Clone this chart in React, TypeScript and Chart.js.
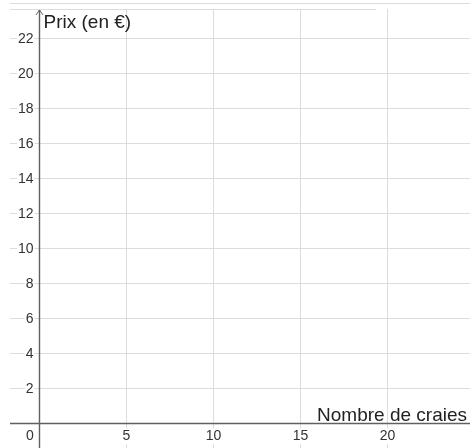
import React, { useEffect, useRef } from "react";
import Chart from "chart.js/auto";

const xGridValues = [0, 5, 10, 15, 20];
const yGridValues = [2, 4, 6, 8, 10, 12, 14, 16, 18, 20, 22, 24];
const xTickLabels = ["0", "5", "10", "15", "20"];
const yTickValues = [2, 4, 6, 8, 10, 12, 14, 16, 18, 20, 22];
const xTitle = "Nombre de craies";
const yTitle = "Prix (en €)";
const xRange = [-1.695, 24.74];
const yRange = [-1.4, 23.69];

const GRID = "#dcdcdc";
const AXIS = "#606060";
const TEXT = "#333333";
const FONT = "'Liberation Sans', Arial, sans-serif";

const overlay = {
  id: "geoOverlay",
  afterDraw(chart: any) {
    const { ctx, chartArea, scales } = chart;
    const xs = scales.x;
    const ys = scales.y;
    const x0 = xs.getPixelForValue(0);
    const y0 = ys.getPixelForValue(0);
    ctx.save();

    // top frame line
    ctx.strokeStyle = GRID;
    ctx.lineWidth = 1;
    ctx.beginPath();
    ctx.moveTo(chartArea.left, chartArea.top + 0.5);
    ctx.lineTo(xs.getPixelForValue(19.35), chartArea.top + 0.5);
    ctx.stroke();

    // axes
    ctx.strokeStyle = AXIS;
    ctx.lineWidth = 1.4;
    ctx.beginPath();
    ctx.moveTo(chartArea.left, y0);
    ctx.lineTo(chartArea.right, y0);
    ctx.moveTo(x0, chartArea.top + 1);
    ctx.lineTo(x0, chartArea.bottom);
    ctx.stroke();
    // arrow on y axis
    ctx.lineWidth = 1;
    ctx.beginPath();
    ctx.moveTo(x0 - 3.5, chartArea.top + 6);
    ctx.lineTo(x0, chartArea.top + 1);
    ctx.lineTo(x0 + 3.5, chartArea.top + 6);
    ctx.stroke();

    // tick labels
    ctx.font = `14px ${FONT}`;
    ctx.textBaseline = "middle";
    ctx.textAlign = "right";
    yTickValues.forEach((v) => {
      const py = ys.getPixelForValue(v) + 1;
      const t = String(v);
      const w = ctx.measureText(t).width;
      ctx.fillStyle = "#ffffff";
      ctx.fillRect(x0 - 6 - w - 1, py - 7, w + 2, 14);
      ctx.fillStyle = TEXT;
      ctx.fillText(t, x0 - 6, py);
    });
    ctx.textAlign = "center";
    xGridValues.forEach((v, i) => {
      const t = xTickLabels[i];
      let px = xs.getPixelForValue(v);
      if (v === 0) px -= 9.5;
      const py = y0 + 13;
      const w = ctx.measureText(t).width;
      ctx.fillStyle = "#ffffff";
      ctx.fillRect(px - w / 2 - 1, py - 8, w + 2, 16);
      ctx.fillStyle = TEXT;
      ctx.fillText(t, px, py);
    });

    // axis titles
    ctx.font = `19px ${FONT}`;
    ctx.fillStyle = "#222222";
    ctx.textBaseline = "alphabetic";
    ctx.textAlign = "left";
    ctx.fillText(yTitle, x0 + 4, chartArea.top + 19);
    ctx.textAlign = "right";
    ctx.fillText(xTitle, chartArea.right - 3, y0 - 3);

    ctx.restore();
  },
};

export default function App() {
  const ref = useRef<HTMLCanvasElement>(null);
  useEffect(() => {
    if (!ref.current) return;
    const chart = new Chart(ref.current, {
      type: "scatter",
      data: { datasets: [{ data: [] as any[] }] },
      options: {
        animation: false,
        responsive: false,
        devicePixelRatio: 1,
        layout: { padding: { left: 10, top: 9, right: 0, bottom: 0 } },
        plugins: { legend: { display: false }, tooltip: { enabled: false } },
        scales: {
          x: {
            type: "linear",
            min: xRange[0],
            max: xRange[1],
            afterBuildTicks: (s: any) => {
              s.ticks = xGridValues.map((v) => ({ value: v }));
            },
            afterFit: (s: any) => {
              s.height = 0;
            },
            ticks: { display: false },
            border: { display: false },
            grid: { color: GRID, lineWidth: 1, drawTicks: false },
          },
          y: {
            type: "linear",
            min: yRange[0],
            max: yRange[1],
            afterBuildTicks: (s: any) => {
              s.ticks = yGridValues.map((v) => ({ value: v }));
            },
            afterFit: (s: any) => {
              s.width = 0;
            },
            ticks: { display: false },
            border: { display: false },
            grid: { color: GRID, lineWidth: 1, drawTicks: false },
          },
        },
      },
      plugins: [overlay],
    });
    return () => chart.destroy();
  }, []);
  return (
    <canvas
      ref={ref}
      width={470}
      height={448}
      style={{ display: "block", position: "fixed", left: 0, top: 0, width: 470, height: 448 }}
    />
  );
}
